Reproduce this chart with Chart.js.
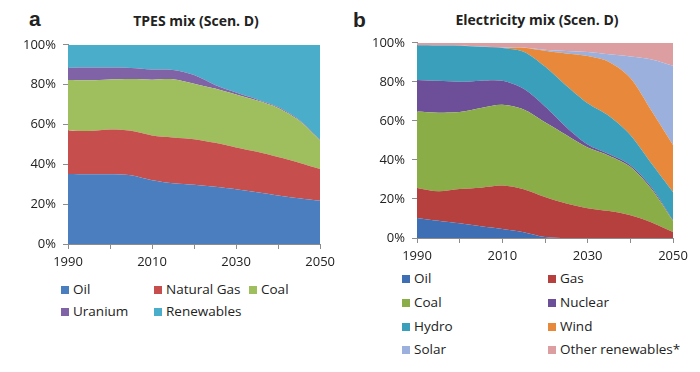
<!DOCTYPE html>
<html lang="en">
<head>
    <meta charset="UTF-8">
    <title>TPES and electricity mix (Scen. D)</title>
    <script src="https://cdn.jsdelivr.net/npm/chart.js"></script>
    <style>
        body { margin: 0; background: #fff; font-family: "Open Sans", Arial, sans-serif; color: #222; }
        #wrap { position: relative; width: 700px; height: 372px; overflow: hidden; }
        canvas { position: absolute; }
        .letter { position: absolute; font-family: "Liberation Sans", Arial, sans-serif; font-weight: bold; font-size: 21px; line-height: 20px; }
        .title { position: absolute; font-weight: bold; font-size: 14px; line-height: 16px; text-align: center; }
        .leg { position: absolute; font-size: 13.5px; line-height: 16px; white-space: nowrap; }
        .leg i { display: inline-block; width: 8px; height: 8px; margin-right: 4px; vertical-align: 0px; }
    </style>
</head>
<body>
<div id="wrap">
    <div class="letter" style="left:29px; top:9px;">a</div>
    <div class="title" style="left:96px; width:200px; top:13px;">TPES mix (Scen. D)</div>
    <canvas id="tpesChart" width="340" height="238" style="left:0; top:30px;"></canvas>

    <div class="letter" style="left:353px; top:10px;">b</div>
    <div class="title" style="left:437px; width:200px; top:12px;">Electricity mix (Scen. D)</div>
    <canvas id="elecChart" width="350" height="234" style="left:350px; top:28px;"></canvas>

    <div id="tpesLegend"></div>
    <div id="elecLegend"></div>
</div>

<script>
    // years for both charts
    const years = [1990, 1995, 2000, 2005, 2010, 2015, 2020, 2025, 2030, 2035, 2040, 2045, 2050];

    // TPES mix shares (%)
    const tpesOil        = [35.2, 35.0, 35.0, 34.5, 32.0, 30.5, 29.7, 28.7, 27.5, 26.0, 24.4, 23.0, 21.7];
    const tpesGas        = [21.8, 21.7, 22.5, 22.3, 22.5, 23.0, 22.9, 22.1, 21.0, 20.3, 19.3, 17.8, 15.9];
    const tpesCoal       = [25.3, 25.5, 25.1, 26.0, 28.0, 29.2, 27.9, 27.2, 26.5, 25.7, 24.6, 21.2, 14.4];
    const tpesUranium    = [6.2, 6.4, 6.0, 5.6, 5.1, 4.6, 4.3, 1.8, 1.0, 0.6, 0.5, 0.4, 0.3];
    const tpesRenewables = [11.5, 11.4, 11.4, 11.6, 12.4, 12.7, 15.2, 20.2, 24.0, 27.4, 31.2, 37.6, 47.7];

    // electricity mix shares (%)
    const elecOil     = [10.3, 8.8, 7.5, 6.0, 4.6, 3.0, 0.5, 0, 0, 0, 0, 0, 0];
    const elecGas     = [15.3, 15.1, 17.6, 19.8, 22.3, 22.0, 20.5, 17.7, 15.3, 13.8, 11.7, 8.0, 3.1];
    const elecCoal    = [39.2, 40.3, 39.4, 40.8, 41.3, 40.8, 38.3, 35.1, 31.0, 28.4, 24.8, 17.0, 5.7];
    const elecNuclear = [16.2, 16.3, 15.5, 14.0, 12.3, 10.6, 8.1, 4.0, 1.6, 0.8, 0.8, 0.9, 0.3];
    const elecHydro   = [17.7, 18.1, 18.5, 17.4, 16.9, 19.0, 20.4, 21.2, 21.1, 19.5, 15.5, 12.1, 14.4];
    const elecWind    = [0, 0, 0, 0, 0, 2.1, 8.1, 16.5, 24.2, 27.7, 29.2, 27.0, 24.1];
    const elecSolar   = [0, 0, 0, 0.1, 0.2, 0.1, 0.6, 1.3, 2.1, 3.9, 11.0, 26.5, 40.7];
    const elecOther   = [1.3, 1.4, 1.5, 1.9, 2.4, 2.4, 3.5, 4.2, 4.7, 5.9, 7.0, 8.5, 11.7];

    const xLabels = [1990, 2010, 2030, 2050];

    function series(label, values, color, i) {
        return {
            label: label,
            data: values.map((v, k) => ({ x: years[k], y: v })),
            backgroundColor: color,
            borderWidth: 0,
            pointRadius: 0,
            tension: 0.3,
            fill: i === 0 ? 'origin' : '-1'
        };
    }

    function makeChart(id, datasets, yWidth, padRight) {
        const axisColor = '#8c8c8c';
        return new Chart(document.getElementById(id), {
            type: 'line',
            data: { datasets: datasets },
            options: {
                responsive: false,
                animation: false,
                layout: { padding: { left: 0, right: padRight, top: 5, bottom: 0 } },
                plugins: { legend: { display: false }, tooltip: { enabled: false } },
                scales: {
                    x: {
                        type: 'linear',
                        min: 1990,
                        max: 2050,
                        afterFit: s => { s.height = 24; },
                        grid: { drawOnChartArea: false, drawTicks: true, tickLength: 5, color: axisColor },
                        border: { color: axisColor },
                        ticks: {
                            stepSize: 10,
                            autoSkip: false,
                            maxRotation: 0,
                            padding: 5,
                            color: '#222',
                            font: { family: 'Open Sans', size: 13 },
                            callback: v => xLabels.includes(v) ? String(v) : ''
                        }
                    },
                    y: {
                        stacked: true,
                        min: 0,
                        max: 100,
                        afterFit: s => { s.width = yWidth; },
                        grid: { drawOnChartArea: false, drawTicks: true, tickLength: 5, color: axisColor },
                        border: { color: axisColor },
                        ticks: {
                            stepSize: 20,
                            padding: 7,
                            color: '#222',
                            font: { family: 'Open Sans', size: 13 },
                            callback: v => v + '%'
                        }
                    }
                }
            }
        });
    }

    const tpesSeries = [
        ['Oil', tpesOil, '#4a7ebe'],
        ['Natural Gas', tpesGas, '#c64f4d'],
        ['Coal', tpesCoal, '#9fbf5e'],
        ['Uranium', tpesUranium, '#8062a6'],
        ['Renewables', tpesRenewables, '#4aaeca']
    ];
    const elecSeries = [
        ['Oil', elecOil, '#3e6fb4'],
        ['Gas', elecGas, '#b5403e'],
        ['Coal', elecCoal, '#8aad48'],
        ['Nuclear', elecNuclear, '#6c4f98'],
        ['Hydro', elecHydro, '#3a9fba'],
        ['Wind', elecWind, '#e8883a'],
        ['Solar', elecSolar, '#9bb0dc'],
        ['Other renewables*', elecOther, '#dc9ea1']
    ];

    makeChart('tpesChart', tpesSeries.map((s, i) => series(s[0], s[1], s[2], i)), 68, 14);
    makeChart('elecChart', elecSeries.map((s, i) => series(s[0], s[1], s[2], i)), 67, 27);

    // legends laid out in a fixed grid like the original
    function legend(containerId, items, cols, rows) {
        const box = document.getElementById(containerId);
        items.forEach((s, i) => {
            const d = document.createElement('div');
            d.className = 'leg';
            d.style.left = cols[i % cols.length] + 'px';
            d.style.top = (rows[Math.floor(i / cols.length)] - 8) + 'px';
            d.innerHTML = '<i style="background:' + s[2] + '"></i>' + s[0];
            box.appendChild(d);
        });
    }
    legend('tpesLegend', tpesSeries, [61, 154, 249], [289, 311]);
    legend('elecLegend', elecSeries, [402, 548], [278, 302, 326, 349]);
</script>
</body>
</html>
